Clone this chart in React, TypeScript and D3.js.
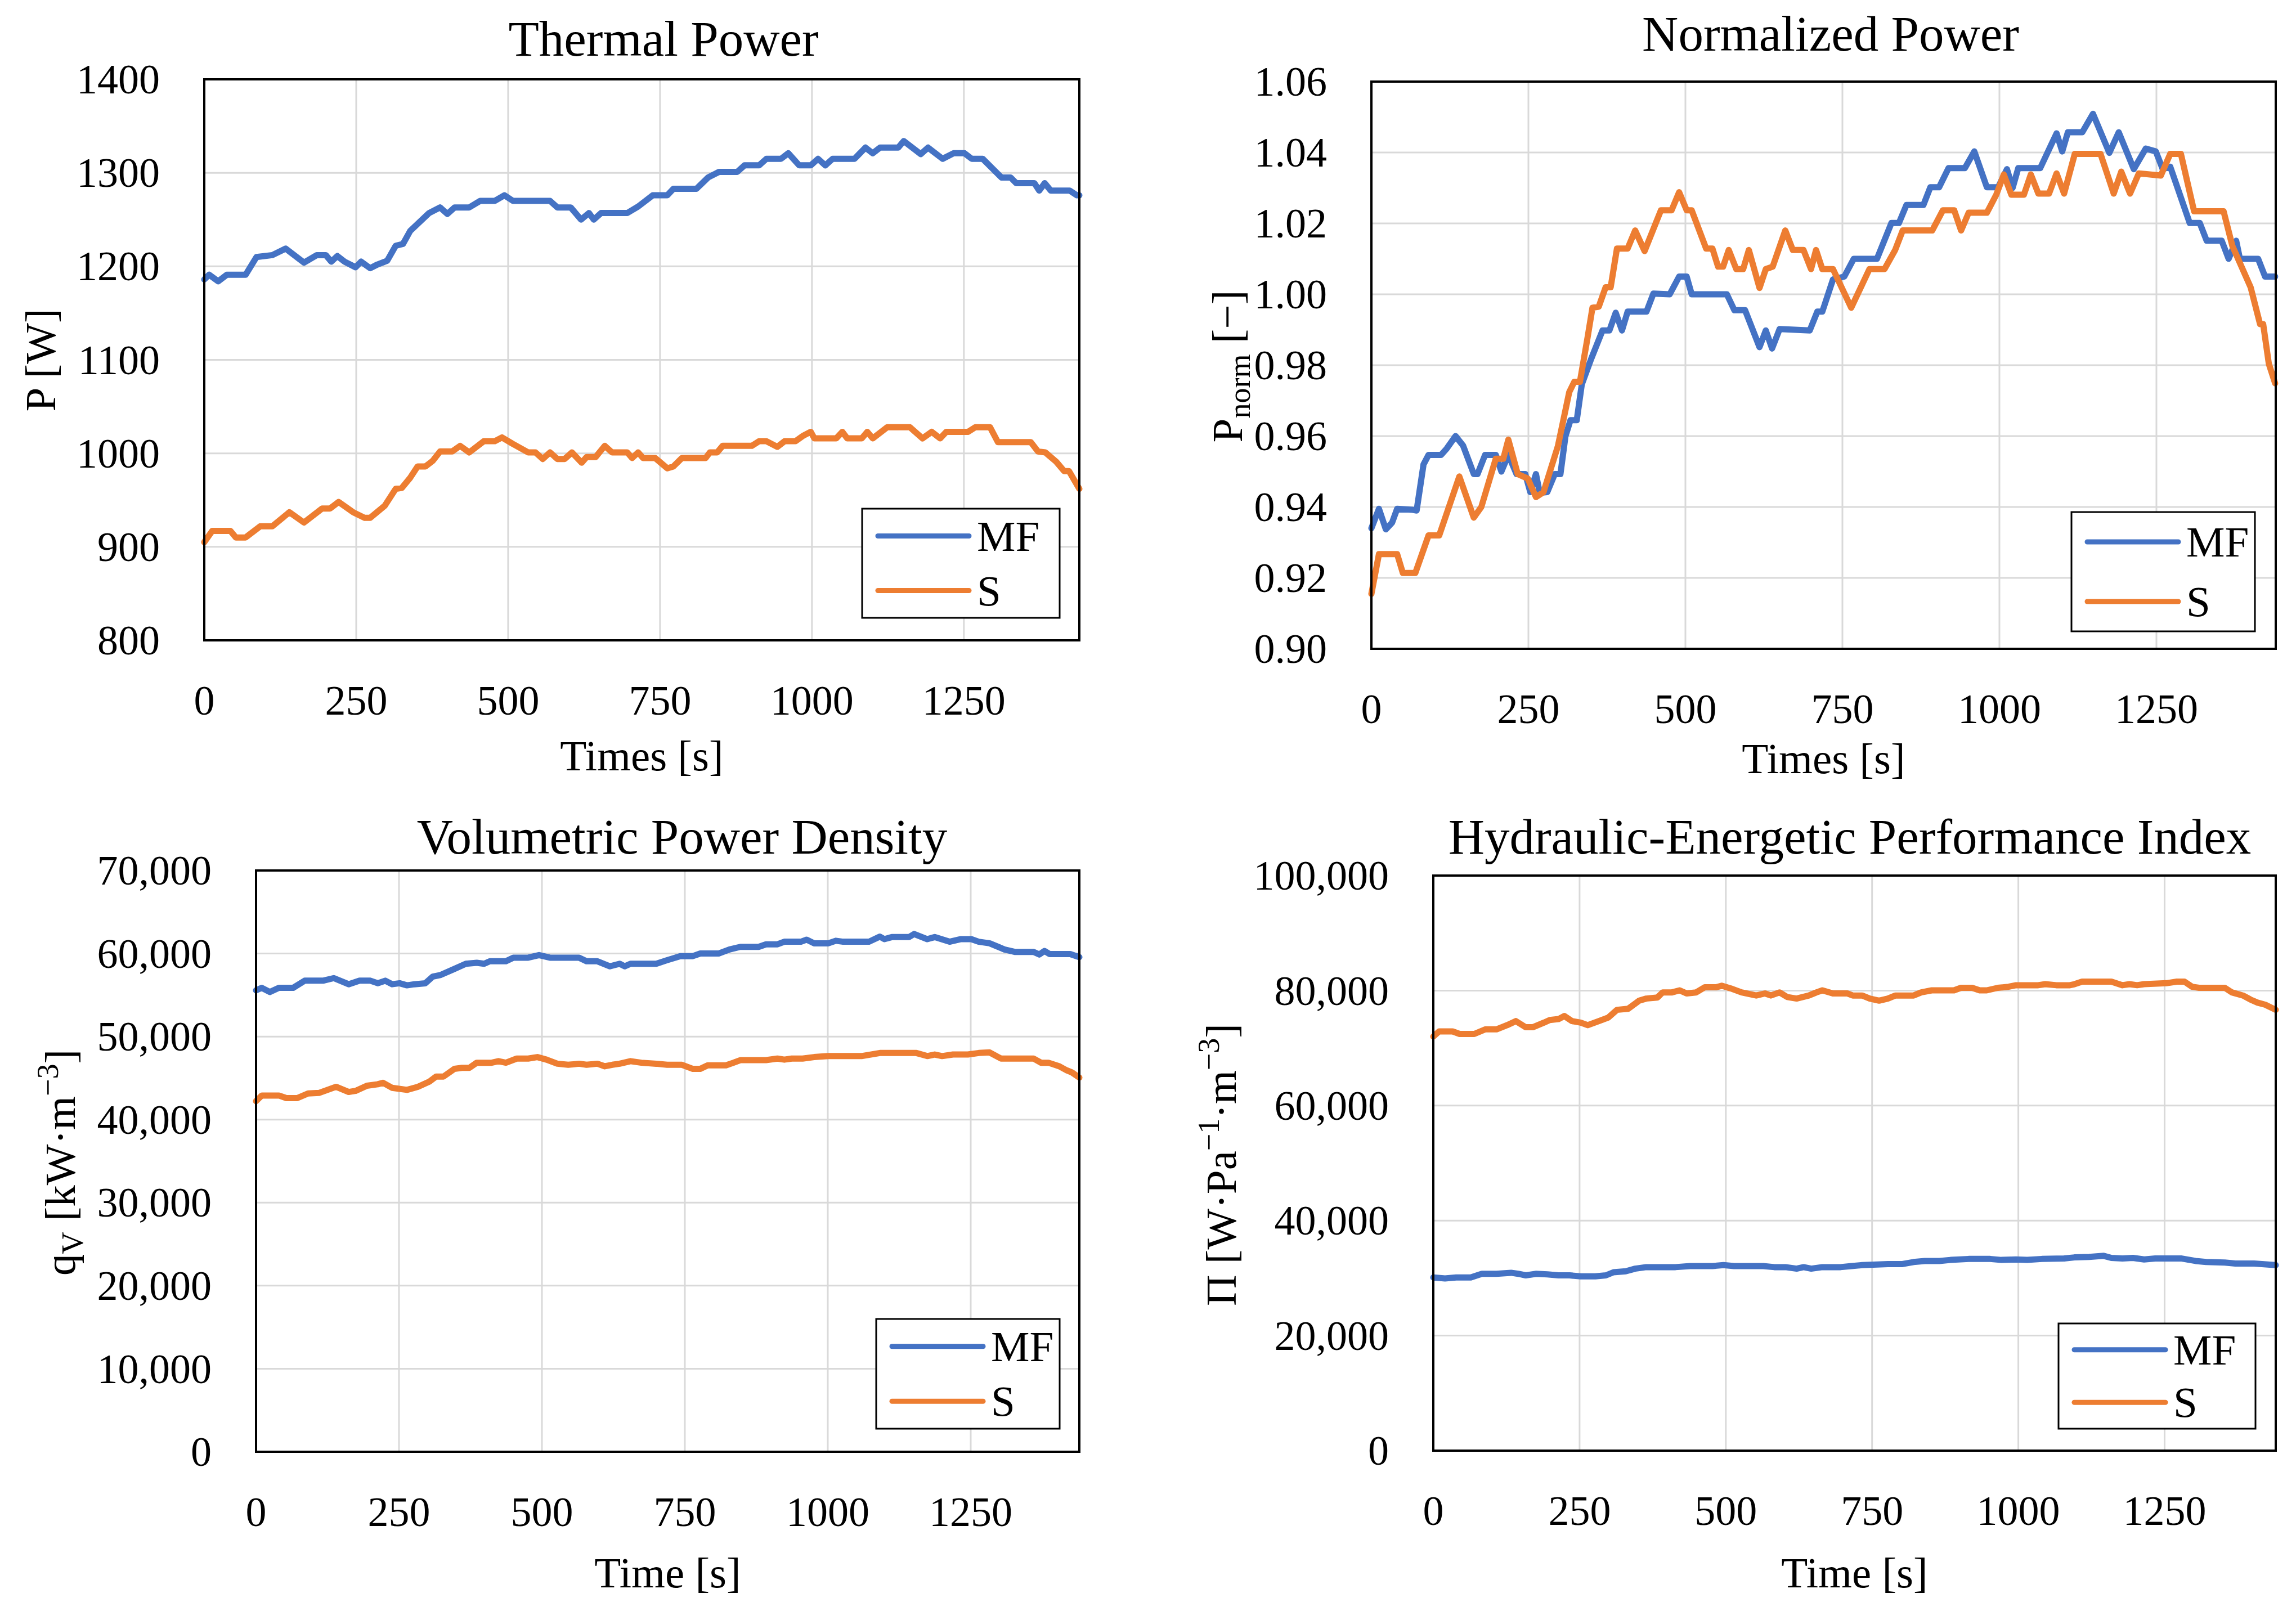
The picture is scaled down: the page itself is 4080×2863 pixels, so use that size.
import React from 'react';
import * as d3 from 'd3';

type Pt = [number, number];

// time axis ticks (s)
const timeTicks = [0, 250, 500, 750, 1000, 1250];
const timeMax = 1440;

// Thermal power [W]
const thermalTicks = [800, 900, 1000, 1100, 1200, 1300, 1400];
const thermalMF: Pt[] = [[0,1186],[8,1191],[23,1184],[37,1191],[68,1191],[86,1210],[112,1212],[134,1219],[164,1204],[185,1212],[200,1212],[209,1205],[219,1211],[231,1205],[249,1199],[258,1205],[273,1198],[285,1202],[301,1206],[315,1222],[327,1224],[339,1238],[370,1257],[388,1263],[400,1256],[412,1263],[436,1263],[454,1270],[478,1270],[494,1276],[508,1270],[569,1270],[581,1263],[603,1263],[620,1250],[633,1257],[641,1250],[653,1257],[696,1257],[714,1264],[738,1276],[762,1276],[772,1283],[810,1283],[829,1295],[847,1301],[877,1301],[889,1308],[913,1308],[925,1315],[949,1315],[961,1321],[979,1308],[998,1308],[1010,1315],[1022,1308],[1034,1315],[1070,1315],[1088,1327],[1100,1321],[1112,1327],[1142,1327],[1151,1334],[1179,1320],[1191,1327],[1215,1315],[1233,1321],[1251,1321],[1263,1315],[1281,1315],[1312,1295],[1327,1295],[1336,1289],[1366,1289],[1374,1281],[1383,1289],[1393,1281],[1424,1281],[1436,1276],[1440,1276]];
const thermalS: Pt[] = [[0,905],[13,917],[43,917],[52,910],[68,910],[92,922],[112,922],[140,937],[164,926],[194,941],[207,941],[221,948],[245,937],[264,931],[273,931],[297,944],[315,962],[325,963],[339,974],[351,986],[364,986],[376,992],[388,1002],[408,1002],[421,1008],[436,1001],[460,1013],[478,1013],[490,1017],[508,1010],[533,1001],[545,1001],[557,994],[569,1001],[581,994],[593,994],[605,1001],[621,990],[629,996],[644,996],[659,1008],[671,1001],[696,1001],[704,995],[714,1001],[722,995],[742,995],[762,984],[772,986],[786,995],[825,995],[832,1001],[844,1001],[853,1008],[901,1008],[913,1013],[925,1013],[943,1007],[955,1013],[973,1013],[986,1019],[998,1023],[1004,1016],[1040,1016],[1050,1023],[1058,1016],[1082,1016],[1091,1023],[1100,1016],[1124,1028],[1161,1028],[1182,1016],[1197,1023],[1211,1016],[1221,1023],[1257,1023],[1269,1028],[1293,1028],[1306,1012],[1327,1012],[1360,1012],[1372,1002],[1384,1001],[1402,991],[1415,981],[1423,981],[1440,962]];

// Normalized power [-]
const normTicks = [0.9, 0.92, 0.94, 0.96, 0.98, 1.0, 1.02, 1.04, 1.06];
const normMF: Pt[] = [[0,0.934],[12,0.9395],[23,0.9337],[33,0.9356],[41,0.9395],[66,0.9392],[72,0.939],[83,0.952],[91,0.9547],[111,0.9547],[120,0.9565],[134,0.96],[146,0.9573],[163,0.9493],[169,0.9493],[181,0.9547],[198,0.9547],[207,0.95],[218,0.9547],[231,0.9493],[245,0.9493],[253,0.9442],[262,0.9493],[268,0.944],[280,0.9442],[292,0.9493],[301,0.9493],[309,0.96],[317,0.9645],[327,0.9645],[335,0.9746],[350,0.9818],[368,0.9898],[379,0.9898],[389,0.9948],[399,0.9898],[408,0.9951],[438,0.9951],[449,1.0002],[475,1.0],[490,1.005],[502,1.005],[510,1.0],[566,1.0],[578,0.9955],[595,0.9955],[618,0.9851],[628,0.9898],[638,0.9847],[650,0.9902],[698,0.9898],[710,0.9951],[718,0.9951],[735,1.0042],[753,1.005],[768,1.01],[805,1.01],[828,1.0201],[840,1.0201],[852,1.0252],[879,1.0252],[890,1.0302],[904,1.0302],[919,1.0356],[945,1.0356],[960,1.0403],[980,1.0302],[998,1.0302],[1012,1.0353],[1021,1.03],[1030,1.0356],[1065,1.0356],[1091,1.0454],[1100,1.0403],[1109,1.0457],[1132,1.0457],[1149,1.0509],[1175,1.0399],[1190,1.0457],[1214,1.0353],[1233,1.0411],[1249,1.0403],[1260,1.0353],[1272,1.036],[1303,1.0201],[1319,1.0201],[1330,1.0151],[1354,1.0151],[1365,1.01],[1377,1.0151],[1383,1.01],[1412,1.01],[1423,1.005],[1439,1.005]];
const normS: Pt[] = [[0,0.9155],[12,0.9267],[41,0.9267],[50,0.9214],[70,0.9214],[91,0.932],[108,0.932],[140,0.9486],[163,0.937],[175,0.94],[198,0.9536],[210,0.9536],[218,0.959],[233,0.9493],[249,0.948],[262,0.9428],[274,0.9442],[297,0.9572],[315,0.9724],[323,0.9753],[332,0.9753],[344,0.9876],[352,0.9962],[362,0.9965],[373,1.002],[381,1.002],[391,1.0129],[408,1.0129],[420,1.018],[435,1.0122],[461,1.0237],[478,1.0237],[490,1.0288],[502,1.0237],[510,1.0237],[533,1.0129],[543,1.0129],[552,1.0078],[560,1.0078],[569,1.0125],[581,1.0071],[592,1.0071],[601,1.0125],[618,1.0018],[628,1.0071],[639,1.0078],[659,1.018],[671,1.0125],[688,1.0125],[700,1.0071],[708,1.0125],[718,1.0071],[735,1.0071],[764,0.9962],[793,1.0071],[817,1.0071],[834,1.0125],[846,1.018],[893,1.018],[910,1.0237],[928,1.0237],[939,1.018],[951,1.023],[980,1.023],[995,1.0281],[1007,1.0338],[1019,1.0281],[1039,1.0281],[1050,1.0338],[1062,1.0284],[1079,1.0284],[1091,1.0341],[1103,1.0284],[1120,1.0396],[1161,1.0396],[1182,1.0284],[1194,1.0346],[1208,1.0284],[1222,1.0341],[1257,1.0335],[1272,1.0396],[1289,1.0396],[1310,1.0234],[1357,1.0234],[1371,1.0136],[1400,1.002],[1415,0.9916],[1420,0.9916],[1429,0.9804],[1439,0.9749]];

// Volumetric power density [kW m-3]
const volTicks = [0, 10000, 20000, 30000, 40000, 50000, 60000, 70000];
const volMF: Pt[] = [[0,55560],[10,55870],[24,55370],[40,55870],[65,55870],[85,56730],[117,56730],[136,57040],[162,56300],[181,56730],[200,56730],[213,56420],[226,56730],[238,56300],[251,56420],[264,56170],[277,56300],[296,56420],[309,57220],[322,57400],[347,58150],[367,58770],[386,58890],[399,58770],[409,59070],[437,59070],[450,59500],[476,59500],[495,59810],[514,59500],[565,59500],[578,59070],[597,59070],[619,58460],[636,58770],[645,58460],[655,58770],[700,58770],[719,59200],[742,59690],[764,59690],[777,60000],[809,60000],[828,60490],[847,60800],[879,60800],[892,61110],[912,61110],[924,61420],[953,61420],[963,61670],[976,61230],[1001,61230],[1014,61540],[1027,61420],[1072,61420],[1091,62040],[1099,61730],[1112,61980],[1142,61980],[1151,62350],[1174,61730],[1187,61980],[1213,61420],[1232,61730],[1251,61730],[1264,61420],[1283,61230],[1309,60490],[1328,60190],[1360,60190],[1370,59880],[1379,60310],[1388,59940],[1424,59940],[1440,59570]];
const volS: Pt[] = [[0,42220],[10,42900],[40,42900],[53,42590],[72,42590],[91,43150],[110,43210],[140,43950],[162,43330],[174,43460],[194,44080],[213,44260],[222,44440],[238,43830],[264,43580],[283,43950],[303,44570],[315,45190],[328,45190],[347,46110],[360,46230],[373,46230],[386,46850],[412,46850],[424,47040],[437,46850],[456,47350],[476,47350],[492,47530],[508,47220],[527,46730],[546,46600],[565,46730],[578,46600],[597,46730],[610,46420],[623,46600],[636,46730],[655,47040],[674,46850],[700,46730],[719,46600],[745,46600],[764,46110],[777,46110],[790,46540],[822,46540],[835,46850],[847,47160],[892,47160],[912,47350],[924,47220],[937,47350],[956,47350],[976,47530],[1001,47650],[1040,47650],[1059,47650],[1091,48020],[1155,48020],[1174,47650],[1187,47840],[1200,47650],[1219,47840],[1245,47840],[1264,48020],[1283,48090],[1303,47350],[1347,47350],[1360,47350],[1373,46850],[1386,46850],[1405,46420],[1418,45930],[1427,45680],[1440,45060]];

// Hydraulic-energetic performance index [W Pa-1 m-3]
const hepiTicks = [0, 20000, 40000, 60000, 80000, 100000];
const hepiMF: Pt[] = [[0,30120],[20,29950],[39,30120],[64,30120],[83,30750],[108,30750],[133,30930],[145,30750],[158,30480],[176,30750],[195,30660],[214,30480],[233,30480],[252,30300],[277,30300],[295,30480],[308,31020],[329,31190],[345,31640],[364,31910],[389,31910],[414,31910],[439,32090],[477,32090],[496,32260],[514,32090],[564,32090],[583,31910],[602,31910],[621,31640],[633,31910],[646,31640],[665,31910],[696,31910],[715,32090],[733,32260],[752,32350],[777,32440],[802,32440],[821,32800],[840,32980],[865,32980],[884,33160],[915,33330],[952,33330],[971,33160],[996,33240],[1015,33160],[1040,33330],[1078,33420],[1096,33600],[1121,33690],[1146,33870],[1159,33510],[1178,33420],[1196,33510],[1215,33240],[1234,33420],[1259,33420],[1278,33420],[1303,32980],[1321,32800],[1353,32710],[1371,32530],[1403,32530],[1440,32260]];
const hepiS: Pt[] = [[0,72010],[10,72900],[33,72900],[45,72460],[70,72460],[89,73260],[108,73260],[126,73980],[141,74690],[158,73620],[170,73620],[189,74420],[199,74870],[214,75040],[224,75580],[237,74690],[252,74420],[264,73980],[283,74690],[299,75310],[314,76650],[333,76830],[352,78250],[364,78610],[383,78790],[392,79680],[408,79680],[421,80040],[433,79500],[449,79680],[464,80570],[483,80570],[493,80840],[508,80390],[527,79680],[552,79140],[567,79500],[577,79140],[592,79680],[605,78880],[621,78610],[642,79140],[655,79680],[665,80040],[683,79500],[708,79500],[717,79140],[733,79140],[746,78610],[762,78250],[777,78610],[790,79140],[821,79140],[834,79680],[852,80040],[890,80040],[902,80480],[921,80480],[934,80040],[946,80040],[965,80480],[983,80660],[996,80930],[1021,80930],[1034,80930],[1046,81110],[1065,80930],[1088,80930],[1096,81110],[1109,81550],[1146,81550],[1159,81550],[1178,80930],[1190,81110],[1203,80930],[1215,81110],[1253,81280],[1271,81550],[1284,81550],[1297,80660],[1309,80480],[1353,80480],[1365,79680],[1384,79140],[1397,78430],[1409,77900],[1422,77540],[1440,76650]];

const seriesNames = ['MF', 'S'];
const colors = ['#4472C4', '#ED7D31'];

const FONT = '"Palatino Linotype", "Book Antiqua", Palatino, "Liberation Serif", serif';

interface Box { left: number; top: number; right: number; bottom: number; }

interface PanelProps {
  plot: Box;
  legend: Box;
  yTicks: number[];
  yFormat: (v: number) => string;
  mf: Pt[];
  s: Pt[];
  title: string;
  titlePos: [number, number];
  xLabel: string;
  xLabelY: number;
  yLabel: React.ReactNode;
  yLabelPos: [number, number];
}

const Panel: React.FC<PanelProps> = ({ plot, legend, yTicks, yFormat, mf, s, title, titlePos, xLabel, xLabelY, yLabel, yLabelPos }) => {
  const x = d3.scaleLinear().domain([0, timeMax]).range([plot.left, plot.right]);
  const y = d3
    .scaleLinear()
    .domain([yTicks[0], yTicks[yTicks.length - 1]])
    .range([plot.bottom, plot.top]);
  const line = d3
    .line<Pt>()
    .x(d => x(d[0]))
    .y(d => y(d[1]));

  const legH = legend.bottom - legend.top;

  return (
    <g fontFamily={FONT} fill="#000">
      {/* gridlines */}
      {yTicks.map(t => (
        <line key={'gy' + t} x1={plot.left} x2={plot.right} y1={y(t)} y2={y(t)} stroke="#d9d9d9" strokeWidth={3} />
      ))}
      {timeTicks.map(t => (
        <line key={'gx' + t} x1={x(t)} x2={x(t)} y1={plot.top} y2={plot.bottom} stroke="#d9d9d9" strokeWidth={3} />
      ))}

      {/* series */}
      {[mf, s].map((d, i) => (
        <path key={seriesNames[i]} d={line(d) || ''} fill="none" stroke={colors[i]} strokeWidth={11} strokeLinejoin="round" strokeLinecap="round" />
      ))}

      {/* frame */}
      <rect x={plot.left} y={plot.top} width={plot.right - plot.left} height={plot.bottom - plot.top} fill="none" stroke="#000" strokeWidth={4} />

      {/* y tick labels */}
      {yTicks.map(t => (
        <text key={'ty' + t} x={plot.left - 79} y={y(t)} dy="0.34em" textAnchor="end" fontSize={74}>
          {yFormat(t)}
        </text>
      ))}
      {/* x tick labels */}
      {timeTicks.map(t => (
        <text key={'tx' + t} x={x(t)} y={plot.bottom + 132} textAnchor="middle" fontSize={74}>
          {t}
        </text>
      ))}

      {/* titles */}
      <text x={titlePos[0]} y={titlePos[1]} textAnchor="middle" fontSize={89}>{title}</text>
      <text x={(plot.left + plot.right) / 2} y={xLabelY} textAnchor="middle" fontSize={77}>{xLabel}</text>
      <text transform={`translate(${yLabelPos[0]},${yLabelPos[1]}) rotate(-90)`} textAnchor="middle" fontSize={77}>
        {yLabel}
      </text>

      {/* legend */}
      <rect x={legend.left} y={legend.top} width={legend.right - legend.left} height={legH} fill="#fff" stroke="#000" strokeWidth={3} />
      {seriesNames.map((name, i) => {
        const ly = legend.top + legH * (i === 0 ? 0.25 : 0.75);
        return (
          <g key={'leg' + name}>
            <line x1={legend.left + 28} x2={legend.left + 190} y1={ly} y2={ly} stroke={colors[i]} strokeWidth={9} strokeLinecap="round" />
            <text x={legend.left + 204} y={ly} dy="0.34em" fontSize={77}>{name}</text>
          </g>
        );
      })}
    </g>
  );
};

const fmtInt = d3.format('d');
const fmt2 = d3.format('.2f');
const fmtComma = d3.format(',');

const App: React.FC = () => {
  return (
    <div style={{ position: 'absolute', left: 0, top: 0 }}>
      <svg width={4080} height={2863} viewBox="0 0 4080 2863" style={{ display: 'block', background: '#fff' }}>
        <rect width={4080} height={2863} fill="#fff" />
        <Panel
          plot={{ left: 363, top: 141, right: 1918, bottom: 1138 }}
          legend={{ left: 1532, top: 904, right: 1883, bottom: 1098 }}
          yTicks={thermalTicks}
          yFormat={fmtInt}
          mf={thermalMF}
          s={thermalS}
          title="Thermal Power"
          titlePos={[1179, 99]}
          xLabel="Times [s]"
          xLabelY={1369}
          yLabel="P [W]"
          yLabelPos={[98, 640]}
        />
        <Panel
          plot={{ left: 2437, top: 145, right: 4044, bottom: 1153 }}
          legend={{ left: 3681, top: 910, right: 4007, bottom: 1122 }}
          yTicks={normTicks}
          yFormat={fmt2}
          mf={normMF}
          s={normS}
          title="Normalized Power"
          titlePos={[3253, 90]}
          xLabel="Times [s]"
          xLabelY={1374}
          yLabel={
            <>
              <tspan>P</tspan>
              <tspan fontSize={54} dy={14}>norm</tspan>
              <tspan dy={-14}> [−]</tspan>
            </>
          }
          yLabelPos={[2207, 651]}
        />
        <Panel
          plot={{ left: 455, top: 1547, right: 1918, bottom: 2580 }}
          legend={{ left: 1557, top: 2344, right: 1883, bottom: 2539 }}
          yTicks={volTicks}
          yFormat={fmtComma}
          mf={volMF}
          s={volS}
          title="Volumetric Power Density"
          titlePos={[1212, 1517]}
          xLabel="Time [s]"
          xLabelY={2821}
          yLabel={
            <>
              <tspan>q</tspan>
              <tspan fontSize={54} dy={14}>V</tspan>
              <tspan dy={-14}> [kW·m</tspan>
              <tspan fontSize={54} dy={-30}>−3</tspan>
              <tspan dy={30}>]</tspan>
            </>
          }
          yLabelPos={[133, 2066]}
        />
        <Panel
          plot={{ left: 2547, top: 1556, right: 4044, bottom: 2578 }}
          legend={{ left: 3658, top: 2352, right: 4008, bottom: 2539 }}
          yTicks={hepiTicks}
          yFormat={fmtComma}
          mf={hepiMF}
          s={hepiS}
          title="Hydraulic-Energetic Performance Index"
          titlePos={[3287, 1517]}
          xLabel="Time [s]"
          xLabelY={2821}
          yLabel={
            <>
              <tspan>Π [W·Pa</tspan>
              <tspan fontSize={54} dy={-30}>−1</tspan>
              <tspan dy={30}>·m</tspan>
              <tspan fontSize={54} dy={-30}>−3</tspan>
              <tspan dy={30}>]</tspan>
            </>
          }
          yLabelPos={[2196, 2070]}
        />
      </svg>
    </div>
  );
};

export default App;
